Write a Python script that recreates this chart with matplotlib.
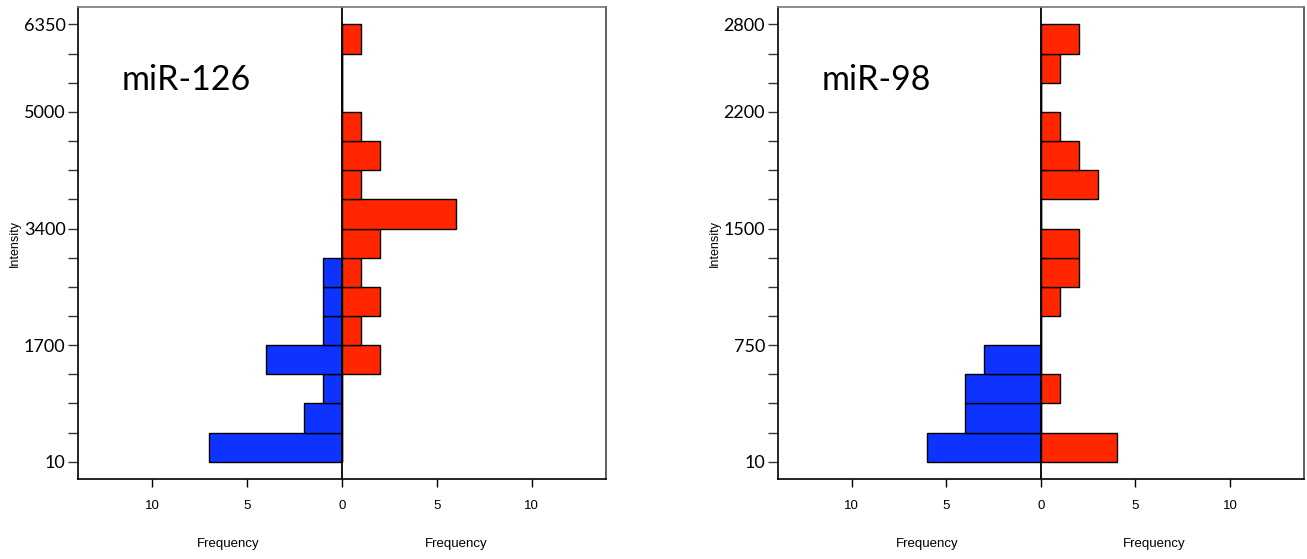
import numpy as np
import matplotlib
matplotlib.use("Agg")
import matplotlib.pyplot as plt

# bin index 0 = lowest intensity bin, 15 bins per panel
bins = np.arange(15)

mir126_blue = [7, 2, 1, 4, 1, 1, 1, 0, 0, 0, 0, 0, 0, 0, 0]
mir126_red = [0, 0, 0, 2, 1, 2, 1, 2, 6, 1, 2, 1, 0, 0, 1]
mir126_ticks = [0, 4, 8, 12, 15]
mir126_labels = ["10", "1700", "3400", "5000", "6350"]

mir98_blue = [6, 4, 4, 3, 0, 0, 0, 0, 0, 0, 0, 0, 0, 0, 0]
mir98_red = [4, 0, 1, 0, 0, 1, 2, 2, 0, 3, 2, 1, 0, 1, 2]
mir98_ticks = [0, 4, 8, 12, 15]
mir98_labels = ["10", "750", "1500", "2200", "2800"]

freq_ticks = [-10, -5, 0, 5, 10]
freq_labels = ["10", "5", "0", "5", "10"]

RED = "#ff2600"
BLUE = "#0f33ff"

fig = plt.figure(figsize=(13.07, 5.59), dpi=100)


def panel(rect, blue, red, ticks, labels, name):
    ax = fig.add_axes(rect)
    ax.barh(bins, -np.array(blue), height=1, align="edge", left=0,
            color=BLUE, edgecolor="black", linewidth=1)
    ax.barh(bins, red, height=1, align="edge",
            color=RED, edgecolor="black", linewidth=1)
    ax.axvline(0, color="black", linewidth=1.3)
    ax.set_xlim(-13.9, 13.9)
    ax.set_ylim(-0.6, 15.6)

    ax.set_yticks(np.arange(16))
    ax.set_yticklabels([labels[ticks.index(i)] if i in ticks else "" for i in range(16)],
                       fontfamily="Lato", fontsize=13)
    ax.set_xticks(freq_ticks)
    ax.set_xticklabels(freq_labels, fontfamily="Liberation Sans", fontsize=9.5)
    ax.tick_params(axis="y", length=7, width=1, pad=2, color="#333333")
    ax.tick_params(axis="x", length=6, width=1, pad=9)

    ax.spines["top"].set_color("#777777")
    ax.spines["right"].set_color("#444444")
    for s in ax.spines.values():
        s.set_linewidth(1.2)

    for xf in (-6, 6):
        ax.text(xf, -0.137, "Frequency", transform=ax.get_xaxis_transform(),
                ha="center", va="center", fontfamily="Liberation Sans", fontsize=9.5)
    ax.text(-0.119, 0.5, "Intensity", transform=ax.transAxes, rotation=90,
            ha="center", va="center", fontfamily="Liberation Sans", fontsize=9)
    ax.text(0.083, 0.824, name, transform=ax.transAxes, ha="left", va="baseline",
            fontfamily="Lato", fontsize=24.5)
    return ax


panel([0.0597, 0.1426, 0.4037, 0.845], mir126_blue, mir126_red,
      mir126_ticks, mir126_labels, "miR-126")
panel([0.595, 0.1426, 0.4027, 0.845], mir98_blue, mir98_red,
      mir98_ticks, mir98_labels, "miR-98")

fig.savefig("out.png", dpi=100)
